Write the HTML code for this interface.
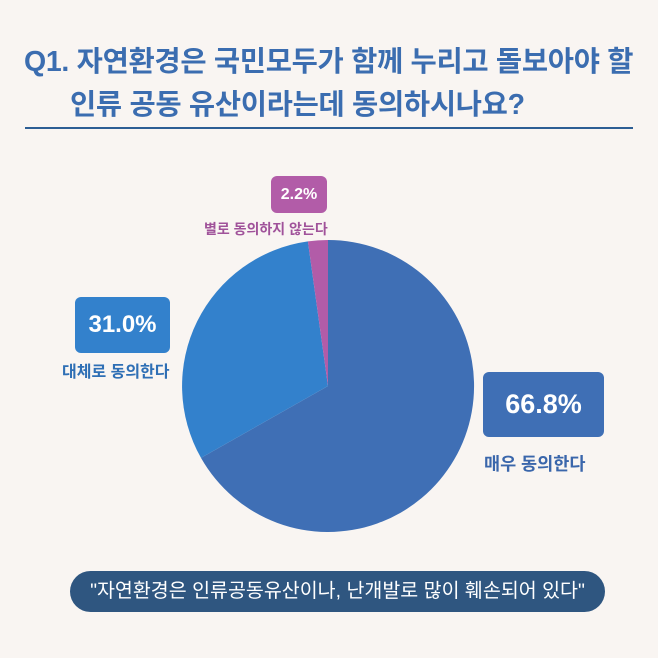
<!DOCTYPE html>
<html><head><meta charset="utf-8"><style>
body{margin:0;width:658px;height:658px;background:#f9f5f2;position:relative;overflow:hidden;font-family:"Liberation Sans","Noto Sans CJK KR",sans-serif}
.t{position:absolute;color:#3b6db0;font-weight:bold;font-size:28.5px;white-space:nowrap;letter-spacing:-0.3px}
.box{position:absolute;color:#fff;font-weight:bold;text-align:center;border-radius:6px}
.lb{position:absolute;font-weight:bold;white-space:nowrap}
</style></head><body>
<div class="t" style="left:24px;top:39px">Q1. 자연환경은 국민모두가 함께 누리고 돌보아야 할</div>
<div class="t" style="left:70px;top:82px">인류 공동 유산이라는데 동의하시나요?</div>
<div style="position:absolute;left:25px;top:127px;width:608px;height:2px;background:#2d5e94"></div>
<svg width="658" height="658" style="position:absolute;left:0;top:0">
<path d="M328,386 L328,240 A146,146 0 1 1 201,457.9 Z" fill="#3f6fb5"/>
<path d="M328,386 L201,457.9 A146,146 0 0 1 307.9,241.4 Z" fill="#3381cc"/>
<path d="M328,386 L307.9,241.4 A146,146 0 0 1 328,240 Z" fill="#b25ca8"/>
</svg>
<div class="box" style="left:271px;top:176px;width:56px;height:37px;line-height:37px;font-size:16px;background:#b25ca8">2.2%</div>
<div class="lb" style="left:204px;top:219px;color:#a0529a;font-size:14px">별로 동의하지 않는다</div>
<div class="box" style="left:75px;top:297px;width:95px;height:56px;line-height:56px;font-size:24px;background:#3381cc">31.0%</div>
<div class="lb" style="left:62px;top:358px;color:#2f6fb5;font-size:16px">대체로 동의한다</div>
<div class="box" style="left:483px;top:372px;width:121px;height:65px;line-height:65px;font-size:27px;background:#3f6fb5">66.8%</div>
<div class="lb" style="left:484px;top:451px;color:#3a66ab;font-size:17.5px">매우 동의한다</div>
<div style="position:absolute;left:70px;top:571px;width:535px;height:41px;border-radius:21px;background:#2f5680;color:#fff;font-size:19.5px;line-height:41px;text-align:center;white-space:nowrap">"자연환경은 인류공동유산이나, 난개발로 많이 훼손되어 있다"</div>
</body></html>
